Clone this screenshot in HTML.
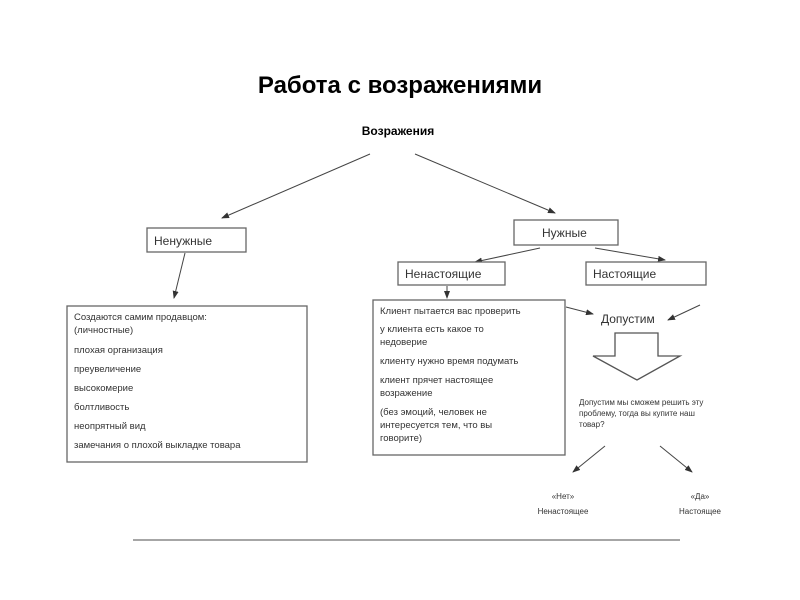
<!DOCTYPE html>
<html><head><meta charset="utf-8"><style>
html,body{margin:0;padding:0;background:#fff;}
svg{display:block;font-family:"Liberation Sans","DejaVu Sans",sans-serif;}
</style></head><body>
<svg width="800" height="600" viewBox="0 0 800 600" xmlns="http://www.w3.org/2000/svg">
<defs><marker id="a" markerWidth="8" markerHeight="6" refX="7" refY="3" orient="auto"><path d="M0,0 L8,3 L0,6 Z" fill="#333"/></marker></defs>
<text x="400" y="93" font-size="24" font-weight="bold" text-anchor="middle" fill="#000">Работа с возражениями</text>
<text x="398" y="135" font-size="12" font-weight="bold" text-anchor="middle">Возражения</text>
<g stroke="#444" stroke-width="1" fill="none" marker-end="url(#a)">
<line x1="370" y1="154" x2="222" y2="218"/>
<line x1="415" y1="154" x2="555" y2="213"/>
<line x1="540" y1="248" x2="475" y2="262"/>
<line x1="595" y1="248" x2="665" y2="260"/>
<line x1="185" y1="253" x2="174" y2="298"/>
<line x1="447" y1="286" x2="447" y2="298"/>
<line x1="566" y1="307" x2="593" y2="314"/>
<line x1="700" y1="305" x2="668" y2="320"/>
<line x1="605" y1="446" x2="573" y2="472"/>
<line x1="660" y1="446" x2="692" y2="472"/>
</g>
<g stroke="#666" stroke-width="1.3" fill="#fff">
<rect x="147" y="228" width="99" height="24"/>
<rect x="514" y="220" width="104" height="25"/>
<rect x="398" y="262" width="107" height="23"/>
<rect x="586" y="262" width="120" height="23"/>
<rect x="67" y="306" width="240" height="156"/>
<rect x="373" y="300" width="192" height="155"/>
</g>
<g font-size="12" fill="#333">
<text x="154" y="245">Ненужные</text>
<text x="542" y="237">Нужные</text>
<text x="405" y="278">Ненастоящие</text>
<text x="593" y="278">Настоящие</text>
<text x="601" y="323">Допустим</text>
</g>
<g font-size="9.5" fill="#333">
<text x="74" y="320">Создаются самим продавцом:</text>
<text x="74" y="333">(личностные)</text>
<text x="74" y="353">плохая организация</text>
<text x="74" y="372">преувеличение</text>
<text x="74" y="391">высокомерие</text>
<text x="74" y="410">болтливость</text>
<text x="74" y="429">неопрятный вид</text>
<text x="74" y="448">замечания о плохой выкладке товара</text>
<text x="380" y="314">Клиент пытается вас проверить</text>
<text x="380" y="332">у клиента есть какое то</text>
<text x="380" y="345">недоверие</text>
<text x="380" y="364">клиенту нужно время подумать</text>
<text x="380" y="383">клиент прячет настоящее</text>
<text x="380" y="396">возражение</text>
<text x="380" y="415">(без эмоций, человек не</text>
<text x="380" y="428">интересуется тем, что вы</text>
<text x="380" y="441">говорите)</text>
</g>
<path d="M615,333 L658,333 L658,356 L680,356 L637,380 L593,356 L615,356 Z" fill="#fff" stroke="#555" stroke-width="1.3"/>
<g font-size="8" fill="#333">
<text x="579" y="405">Допустим мы сможем решить эту</text>
<text x="579" y="416">проблему, тогда вы купите наш</text>
<text x="579" y="427">товар?</text>
<text x="563" y="499" text-anchor="middle">«Нет»</text>
<text x="563" y="514" text-anchor="middle">Ненастоящее</text>
<text x="700" y="499" text-anchor="middle">«Да»</text>
<text x="700" y="514" text-anchor="middle">Настоящее</text>
</g>
<line x1="133" y1="540" x2="680" y2="540" stroke="#888" stroke-width="1.5"/>
</svg>
</body></html>
